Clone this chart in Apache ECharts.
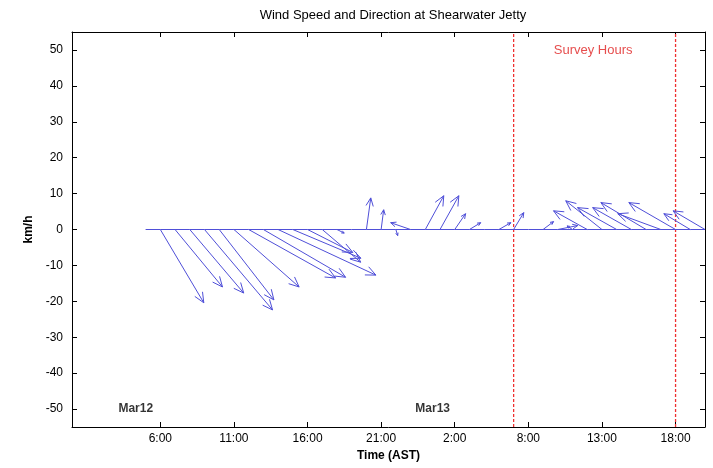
<!DOCTYPE html>
<html>
<head>
<meta charset="utf-8">
<script src="https://cdn.jsdelivr.net/npm/echarts@6/dist/echarts.min.js"></script>
<style>
  html, body { margin: 0; padding: 0; background: #fff; }
  #chart { width: 713px; height: 468px; }
</style>
</head>
<body>
<div id="chart"></div>
<script>
// Hourly observation times, hours since Mar12 00:00 AST
const HOURS = [5, 6, 7, 8, 9, 10, 11, 12, 13, 14, 15, 16, 17, 18, 19, 20, 21, 22, 23, 24,
               25, 26, 27, 28, 29, 30, 31, 32, 33, 34, 35, 36, 37, 38, 39, 40, 41, 42, 43];
// East (u) and north (v) wind components, km/h
const U = [0, 12.0, 13.1, 14.9, 18.8, 15.1, 18.0, 24.0, 22.7, 27.0, 18.8, 12.5, 10.6, 2.0, 0,
           1.2, 0.7, 0.5, -5.5, 5.1, 5.2, 3.0, 3.1, 0, 3.3, 2.8, 0, 2.9, 5.5, -1.5,
           -9.3, -10.0, -10.8, -10.7, -12.5, -11.9, -12.9, -7.3, -8.8];
const V = [0, -20.4, -16.0, -17.7, -22.4, -19.6, -16.0, -13.5, -13.3, -12.7, -8.0, -6.4, -9.1, -1.0, 0,
           8.8, 5.5, -1.7, 1.9, 9.4, 9.4, 4.4, 1.9, 0, 1.9, 4.7, 0, 2.2, 1.1, 1.0,
           5.2, 8.0, 6.1, 6.1, 7.5, 4.4, 7.5, 4.4, 5.2];

// Axis ticks
const X_TICKS = [6, 11, 16, 21, 26, 31, 36, 41];
const X_TICK_LABELS = ['6:00', '11:00', '16:00', '21:00', '2:00', '8:00', '13:00', '18:00'];
const Y_TICKS = [-50, -40, -30, -20, -10, 0, 10, 20, 30, 40, 50];

// Survey window (hours) and annotations
const SURVEY_BOUNDS = [30, 41];
const DAY_LABEL_TEXT = ['Mar12', 'Mar13'];
const DAY_LABEL_HOUR = [4.33, 24.5];
const DAY_LABEL_Y = -50;
const SURVEY_LABEL = 'Survey Hours';
const SURVEY_LABEL_POS = [35.4, 50];

// Horizontal arrow scaling: hours per km/h so arrows keep their true direction
const ARROW_SCALE = 0.246;
const ARROW_COLOR = '#4f4fd8';
const SURVEY_COLOR = '#ee3030';
const Y_MIN = -55, Y_MAX = 55;

const chart = echarts.init(document.getElementById('chart'), null, { renderer: 'canvas' });

const arrowData = HOURS.map((t, i) => [t, U[i], V[i]]);
const baseline = HOURS.map(t => [t, 0]);

function renderArrow(params, api) {
  const t = api.value(0), u = api.value(1), v = api.value(2);
  if (u === 0 && v === 0) return null;
  const p0 = api.coord([t, 0]);
  const p1 = api.coord([t + u * ARROW_SCALE, v]);
  const dx = p1[0] - p0[0], dy = p1[1] - p0[1];
  const len = Math.sqrt(dx * dx + dy * dy);
  const head = Math.min(11, Math.max(3, len * 0.28));
  const ang = Math.atan2(dy, dx);
  const spread = 0.42;
  const h1 = [p1[0] - head * Math.cos(ang - spread), p1[1] - head * Math.sin(ang - spread)];
  const h2 = [p1[0] - head * Math.cos(ang + spread), p1[1] - head * Math.sin(ang + spread)];
  const style = { stroke: ARROW_COLOR, lineWidth: 1, fill: null };
  return {
    type: 'group',
    children: [
      { type: 'polyline', shape: { points: [p0, p1] }, style },
      { type: 'polyline', shape: { points: [h1, p1, h2] }, style }
    ]
  };
}

const axisLineStyle = { color: '#000', width: 1 };
const fontFamily = '"Liberation Sans", Arial, sans-serif';

function xAxisCfg(pos, labels) {
  return {
    type: 'value', position: pos, min: 0, max: 43,
    axisLine: { show: true, onZero: false, lineStyle: axisLineStyle },
    axisTick: { show: true, inside: true, length: 5, customValues: X_TICKS, lineStyle: axisLineStyle },
    axisLabel: labels ? {
      show: true, customValues: X_TICKS, margin: 6, color: '#000', fontSize: 12, fontFamily,
      formatter: val => X_TICK_LABELS[X_TICKS.indexOf(val)] || ''
    } : { show: false },
    splitLine: { show: false },
    name: labels ? 'Time (AST)' : '', nameLocation: 'middle', nameGap: 22,
    nameTextStyle: { color: '#000', fontWeight: 'bold', fontSize: 12, fontFamily }
  };
}
function yAxisCfg(pos, labels) {
  return {
    type: 'value', position: pos, min: Y_MIN, max: Y_MAX,
    axisLine: { show: true, onZero: false, lineStyle: axisLineStyle },
    axisTick: { show: true, inside: true, length: 5, customValues: Y_TICKS, lineStyle: axisLineStyle },
    axisLabel: labels ? {
      show: true, customValues: Y_TICKS, margin: 9, color: '#000', fontSize: 12, fontFamily
    } : { show: false },
    splitLine: { show: false },
    name: labels ? 'km/h' : '', nameLocation: 'middle', nameGap: 35, nameRotate: 90,
    nameTextStyle: { color: '#000', fontWeight: 'bold', fontSize: 12, fontFamily }
  };
}

// Dotted vertical lines bounding the survey window
const surveySeries = SURVEY_BOUNDS.map(x => ({
  type: 'line', data: [[x, Y_MIN], [x, Y_MAX]], symbol: 'none', silent: true,
  lineStyle: { color: SURVEY_COLOR, type: [3, 2], width: 1.3 }, z: 1
}));

const option = {
  animation: false,
  backgroundColor: '#fff',
  title: {
    text: 'Wind Speed and Direction at Shearwater Jetty',
    left: 388, top: 4, textAlign: 'center',
    textStyle: { color: '#000', fontWeight: 'normal', fontSize: 13, fontFamily }
  },
  grid: { left: 72, right: 8, top: 32, bottom: 41, containLabel: false },
  xAxis: [xAxisCfg('bottom', true), xAxisCfg('top', false)],
  yAxis: [yAxisCfg('left', true), yAxisCfg('right', false)],
  series: [
    ...surveySeries,
    {
      type: 'line', data: baseline, symbol: 'none', silent: true,
      lineStyle: { color: ARROW_COLOR, width: 1 }, z: 2
    },
    {
      type: 'custom', renderItem: renderArrow, data: arrowData, clip: true,
      encode: { x: 0, y: 2 }, z: 3
    },
    {
      type: 'scatter', symbolSize: 0, silent: true,
      data: DAY_LABEL_TEXT.map((txt, i) => ({ name: txt, value: [DAY_LABEL_HOUR[i], DAY_LABEL_Y] })),
      label: {
        show: true, position: 'inside', formatter: p => p.name,
        color: '#000', fontWeight: 'bold', fontSize: 12, fontFamily
      }
    },
    {
      type: 'scatter', symbolSize: 0, silent: true,
      data: [{ name: SURVEY_LABEL, value: SURVEY_LABEL_POS }],
      label: {
        show: true, position: 'inside', formatter: p => p.name,
        color: '#e02020', fontSize: 13, fontFamily
      }
    }
  ]
};
chart.setOption(option);
</script>
</body>
</html>
